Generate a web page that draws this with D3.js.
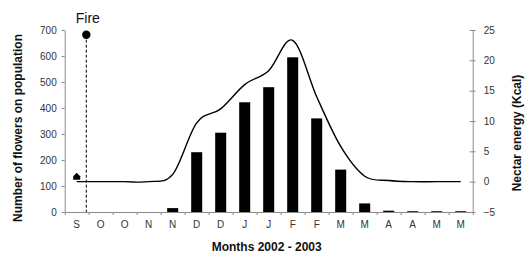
<!DOCTYPE html>
<html>
<head>
<meta charset="utf-8">
<script src="https://cdn.jsdelivr.net/npm/d3@7"></script>
<style>
  body { margin: 0; background: #fff; }
  svg text { font-family: "Liberation Sans", Arial, sans-serif; }
</style>
</head>
<body>
<div id="chart"></div>
<script>
// months Sep 2002 - May 2003, two samples per month
const months = ['S','O','O','N','N','D','D','J','J','F','F','M','M','A','A','M','M'];
// number of flowers on population (bars)
const flowers = [0, 0, 0, 0, 15, 230, 305, 422, 480, 595, 360, 163, 33, 5, 3, 3, 3];
// nectar energy, Kcal (smoothed line)
const nectar = [0, 0, 0, 0, 1.2, 9.7, 12, 16, 18.3, 23.3, 14, 5.8, 0.9, 0.2, 0, 0, 0];
const leftTicks = [0, 100, 200, 300, 400, 500, 600, 700];
const rightTicks = [-5, 0, 5, 10, 15, 20, 25];
// fire event, in month-slot units, and its marker level on the flower axis
const fire = {slot: 0.9, level: 682, label: 'Fire'};
// initial census marker
const start = {slot: 0.5, level: 136};

var state = {
    width: 525,
    height: 254,
    left: 64.7,
    right: 472.7,
    top: 30,
    bottom: 212,
    axisColor: '#8c8c8c',
    textColor: '#333'
};

let svg = d3.select('#chart')
    .append('svg')
        .attr('width', state.width)
        .attr('height', state.height);

let idx = d3.range(months.length);

let xLin = d3.scaleLinear()
    .domain([0, months.length])
    .range([state.left, state.right]);

let xBand = d3.scaleBand()
    .domain(idx)
    .range([state.left, state.right])
    .paddingInner(0.54)
    .paddingOuter(0.27);

let yLeft = d3.scaleLinear()
    .domain([0, 700])
    .range([state.bottom, state.top]);

let yRight = d3.scaleLinear()
    .domain([-5, 25])
    .range([state.bottom, state.top]);

// bars
svg.append('g')
    .selectAll('rect')
    .data(flowers)
    .enter()
    .append('rect')
        .attr('x', (d, i) => xBand(i))
        .attr('width', xBand.bandwidth())
        .attr('y', d => yLeft(d))
        .attr('height', d => state.bottom - yLeft(d))
        .attr('fill', '#000');

// nectar line
let line = d3.line()
    .x((d, i) => xLin(i + 0.5))
    .y(d => yRight(d))
    .curve(d3.curveCatmullRom.alpha(0));

svg.append('path')
    .datum(nectar)
    .attr('d', line)
    .attr('fill', 'none')
    .attr('stroke', '#000')
    .attr('stroke-width', 1.4);

// fire marker
svg.append('line')
    .attr('x1', xLin(fire.slot))
    .attr('x2', xLin(fire.slot))
    .attr('y1', yLeft(fire.level))
    .attr('y2', state.bottom)
    .attr('stroke', '#000')
    .attr('stroke-width', 1)
    .attr('stroke-dasharray', '3,2');

svg.append('circle')
    .attr('cx', xLin(fire.slot))
    .attr('cy', yLeft(fire.level))
    .attr('r', 4.2)
    .attr('fill', '#000');

svg.append('text')
    .attr('x', xLin(fire.slot) + 1.5)
    .attr('y', 23)
    .attr('text-anchor', 'middle')
    .style('font-size', '14px')
    .attr('fill', '#111')
    .text(fire.label);

// small house-shaped marker
let hx = xLin(start.slot), hy = yLeft(start.level);
let house = d3.path();
house.moveTo(hx, hy - 4);
house.lineTo(hx + 3.5, hy - 0.5);
house.lineTo(hx + 3.5, hy + 3);
house.lineTo(hx - 3.5, hy + 3);
house.lineTo(hx - 3.5, hy - 0.5);
house.closePath();
svg.append('path')
    .attr('d', house.toString())
    .attr('fill', '#000');

// axes
function styleAxis(g){
    g.select('.domain').attr('stroke', state.axisColor);
    g.selectAll('.tick line').attr('stroke', state.axisColor);
    g.selectAll('.tick text')
        .attr('fill', state.textColor)
        .style('font-size', '10px')
        .style('font-family', '"Liberation Sans", Arial, sans-serif');
}

svg.append('g')
    .attr('transform', `translate(${state.left},0)`)
    .call(d3.axisLeft(yLeft).tickValues(leftTicks).tickSize(3).tickSizeOuter(0).tickPadding(5))
    .call(styleAxis);

let rAxis = svg.append('g')
    .attr('transform', `translate(${state.right},0)`)
    .call(d3.axisRight(yRight).tickValues(rightTicks).tickSize(3).tickSizeOuter(0).tickPadding(8))
    .call(styleAxis);
rAxis.selectAll('.tick line').attr('x1', -3);

// x axis: boundary ticks
svg.append('g')
    .attr('transform', `translate(0,${state.bottom})`)
    .call(d3.axisBottom(xLin).tickValues(d3.range(months.length + 1)).tickFormat('').tickSize(3).tickSizeOuter(0))
    .call(styleAxis);

// x axis: month labels
let xLabels = svg.append('g')
    .attr('transform', `translate(0,${state.bottom})`)
    .call(d3.axisBottom(xBand).tickFormat(i => months[i]).tickSize(0).tickPadding(9))
    .call(styleAxis);
xLabels.select('.domain').remove();

// titles
svg.append('text')
    .attr('x', (state.left + state.right) / 2 - 2)
    .attr('y', 251)
    .attr('text-anchor', 'middle')
    .style('font-size', '12px')
    .style('font-weight', 'bold')
    .attr('fill', '#111')
    .text('Months 2002 - 2003');

svg.append('text')
    .attr('transform', 'translate(22,128) rotate(-90)')
    .attr('text-anchor', 'middle')
    .style('font-size', '12px')
    .style('font-weight', 'bold')
    .attr('fill', '#111')
    .text('Number of flowers on population');

svg.append('text')
    .attr('transform', 'translate(521,133) rotate(-90)')
    .attr('text-anchor', 'middle')
    .style('font-size', '12px')
    .style('font-weight', 'bold')
    .attr('fill', '#111')
    .text('Nectar energy (Kcal)');
</script>
</body>
</html>
